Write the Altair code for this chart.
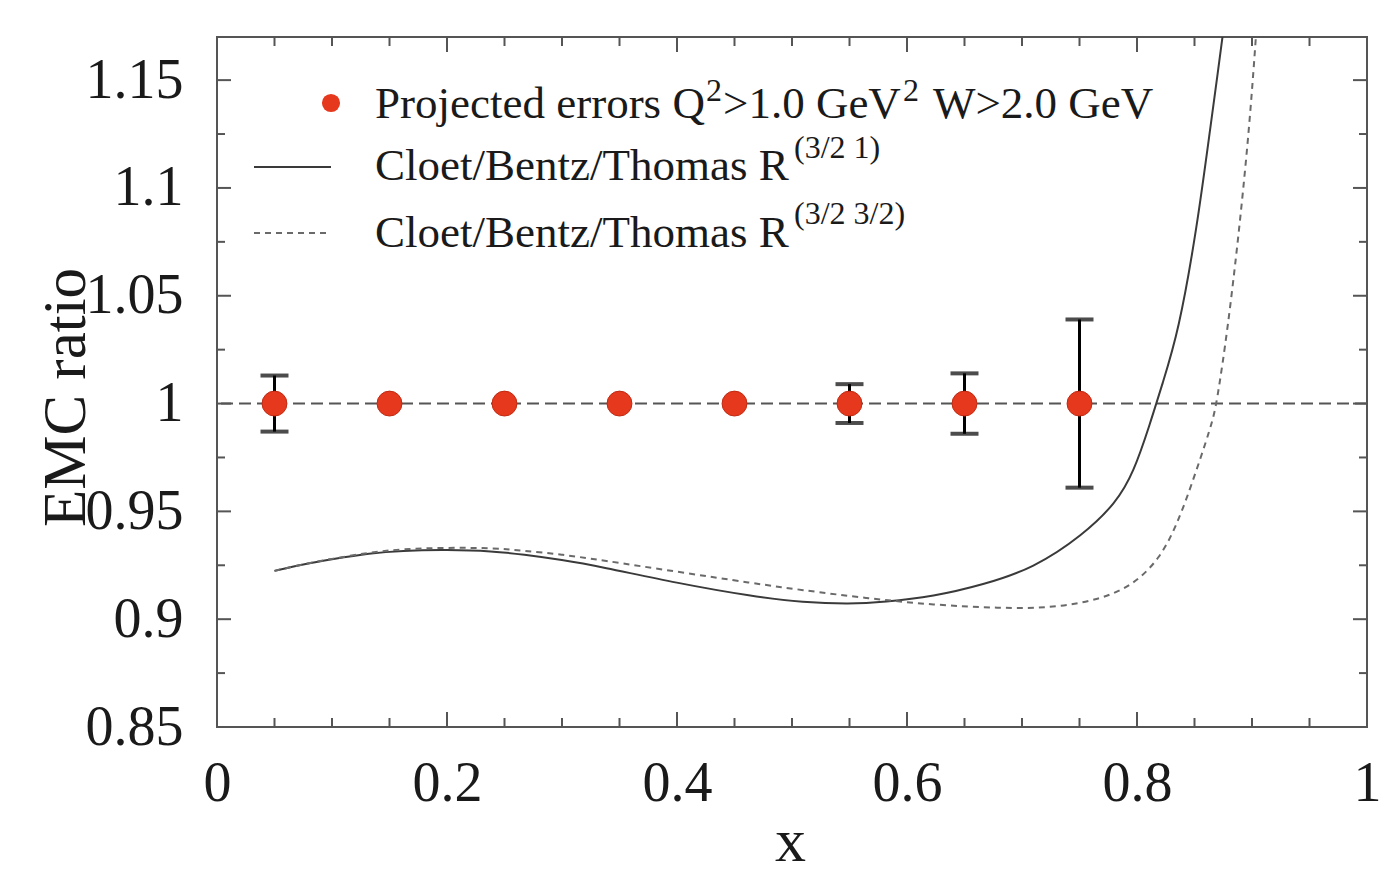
import altair as alt
import pandas as pd

# ---- data ----
x_pts = [0.05, 0.15, 0.25, 0.35, 0.45, 0.55, 0.65, 0.75]
y_pts = [1.0, 1.0, 1.0, 1.0, 1.0, 1.0, 1.0, 1.0]
err_pts = [0.013, 0.0, 0.0, 0.0, 0.0, 0.009, 0.014, 0.039]

solid_x = [0.05, 0.075, 0.10, 0.133, 0.16, 0.20, 0.24, 0.266, 0.30, 0.333, 0.40,
           0.466, 0.51, 0.55, 0.58, 0.623, 0.666, 0.71, 0.753, 0.782, 0.797,
           0.811, 0.822, 0.836, 0.852, 0.8635, 0.8745, 0.885]
solid_y = [0.9224, 0.9255, 0.9278, 0.9306, 0.9318, 0.9322, 0.9316, 0.9300, 0.9275,
           0.9244, 0.9167, 0.9105, 0.9078, 0.9070, 0.9079, 0.9105, 0.9159, 0.9236,
           0.9390, 0.9540, 0.9680, 0.9900, 1.0090, 1.0330, 1.081, 1.127, 1.17, 1.215]

dash_x = [0.05, 0.075, 0.10, 0.133, 0.16, 0.20, 0.24, 0.266, 0.30, 0.333, 0.40,
          0.466, 0.507, 0.565, 0.623, 0.681, 0.724, 0.768, 0.797, 0.82, 0.8345,
          0.846, 0.8649, 0.8693, 0.879, 0.889, 0.8975, 0.9035, 0.909]
dash_y = [0.9224, 0.9255, 0.9280, 0.9310, 0.9325, 0.9332, 0.9330, 0.9318, 0.9300,
          0.9275, 0.9220, 0.9167, 0.9136, 0.9097, 0.9066, 0.9051, 0.9051, 0.9090,
          0.9159, 0.9282, 0.9437, 0.9600, 0.9900, 1.0, 1.035, 1.081, 1.127,
          1.17, 1.215]

x_major = [0, 0.2, 0.4, 0.6, 0.8, 1.0]
x_minor = [0.05, 0.1, 0.15, 0.25, 0.3, 0.35, 0.45, 0.5, 0.55, 0.65, 0.7, 0.75,
           0.85, 0.9, 0.95]
y_major = [0.85, 0.9, 0.95, 1.0, 1.05, 1.1, 1.15]
y_minor = [0.875, 0.925, 0.975, 1.025, 1.075, 1.125]

legend_line1 = ["Projected errors Q", "2", ">1.0 GeV", "2", "W>2.0 GeV"]
legend_labels = ["Cloet/Bentz/Thomas R", "Cloet/Bentz/Thomas R"]
legend_sups = ["(3/2 1)", "(3/2 3/2)"]

# ---- layout constants ----
W, H = 1150, 690
FONT = "Liberation Serif"
TXT = "#1a1a1a"

pts = pd.DataFrame({"x": x_pts, "y": y_pts, "e": err_pts})
pts["lo"] = pts["y"] - pts["e"]
pts["hi"] = pts["y"] + pts["e"]
errs = pts[pts["e"] > 0]
solid = pd.DataFrame({"x": solid_x, "y": solid_y})
dashed = pd.DataFrame({"x": dash_x, "y": dash_y})
one = pd.DataFrame({"y": [1.0]})
dummy = pd.DataFrame({"a": [0]})

xs = alt.Scale(domain=[0, 1], nice=False, zero=False)
ys = alt.Scale(domain=[0.85, 1.17], nice=False, zero=False)

x_axis = alt.Axis(values=x_major, format="~g", ticks=False, tickSize=0, domain=False,
                  grid=False, labelFont=FONT, labelFontSize=56, labelColor=TXT,
                  labelPadding=29, labelFlush=False, labelOverlap=False, labelBound=False,
                  title="x", titleFont=FONT, titleFontSize=62, titleFontWeight="normal",
                  titleColor=TXT, titleX=573, titleY=133, titleAlign="center",
                  titleBaseline="alphabetic")
y_axis = alt.Axis(values=y_major, format="~g", ticks=False, tickSize=0, domain=False,
                  grid=False, labelFont=FONT, labelFontSize=56, labelColor=TXT,
                  labelPadding=34, labelFlush=False, labelOverlap=False, labelBound=False,
                  title="EMC ratio", titleFont=FONT, titleFontSize=61,
                  titleFontWeight="normal", titleColor=TXT, titleAngle=270,
                  titleX=-133, titleY=360, titleAlign="center",
                  titleBaseline="alphabetic")

X = lambda f: alt.X(f, type="quantitative", scale=xs, axis=x_axis)
Y = lambda f: alt.Y(f, type="quantitative", scale=ys, axis=y_axis)

layers = []

# inward ticks on all four sides
tick_col = "#555555"
def xticks(vals, length):
    df = pd.DataFrame({"x": vals})
    b = alt.Chart(df).mark_rule(color=tick_col, strokeWidth=2).encode(
        x=X("x"), y=alt.value(H), y2=alt.value(H - length))
    t = alt.Chart(df).mark_rule(color=tick_col, strokeWidth=2).encode(
        x=X("x"), y=alt.value(0), y2=alt.value(length))
    return [b, t]

def yticks(vals, length):
    df = pd.DataFrame({"y": vals})
    l = alt.Chart(df).mark_rule(color=tick_col, strokeWidth=2).encode(
        y=Y("y"), x=alt.value(0), x2=alt.value(length))
    r = alt.Chart(df).mark_rule(color=tick_col, strokeWidth=2).encode(
        y=Y("y"), x=alt.value(W), x2=alt.value(W - length))
    return [l, r]

layers += xticks(x_major, 15) + xticks(x_minor, 9)
layers += yticks(y_major, 14) + yticks(y_minor, 8)

# reference line at 1
layers.append(alt.Chart(one).mark_rule(color="#555555", strokeWidth=2,
                                       strokeDash=[12, 6]).encode(y=Y("y")))

# model curves
layers.append(alt.Chart(solid).mark_line(color="#3a3a3a", strokeWidth=2,
                                         interpolate="basis", clip=True).encode(
    x=X("x"), y=Y("y")))
layers.append(alt.Chart(dashed).mark_line(color="#6a6a6a", strokeWidth=2,
                                          strokeDash=[6, 5], interpolate="basis",
                                          clip=True).encode(
    x=X("x"), y=Y("y")))

# error bars
layers.append(alt.Chart(errs).mark_rule(color="black", strokeWidth=3).encode(
    x=X("x"), y=Y("lo"), y2="hi"))
layers.append(alt.Chart(errs).mark_tick(orient="horizontal", size=28, thickness=4,
                                        color="black").encode(x=X("x"), y=Y("lo")))
layers.append(alt.Chart(errs).mark_tick(orient="horizontal", size=28, thickness=4,
                                        color="black").encode(x=X("x"), y=Y("hi")))

# data points
layers.append(alt.Chart(pts).mark_circle(size=620, color="#E5381C", opacity=1,
                                         stroke="#C02A12", strokeWidth=1).encode(
    x=X("x"), y=Y("y")))

# ---- legend (drawn inside the plot, top-left) ----
layers.append(alt.Chart(dummy).mark_circle(size=330, color="#E5381C", opacity=1).encode(
    x=alt.value(114), y=alt.value(66)))
layers.append(alt.Chart(dummy).mark_rule(color="#3a3a3a", strokeWidth=2).encode(
    x=alt.value(37), x2=alt.value(114), y=alt.value(130)))
layers.append(alt.Chart(dummy).mark_rule(color="#6a6a6a", strokeWidth=2,
                                         strokeDash=[6, 5]).encode(
    x=alt.value(37), x2=alt.value(114), y=alt.value(196)))

def txt(s, x, y, size):
    return alt.Chart(dummy).mark_text(text=s, font=FONT, fontSize=size, color=TXT,
                                      align="left", baseline="alphabetic").encode(
        x=alt.value(x), y=alt.value(y))

# first legend line, with real superscripts
layers.append(txt(legend_line1[0], 158, 81, 45))
layers.append(txt(legend_line1[1], 489, 64, 32))
layers.append(txt(legend_line1[2], 506, 81, 45))
layers.append(txt(legend_line1[3], 686, 64, 32))
layers.append(txt(legend_line1[4], 716, 81, 45))
layers.append(txt(legend_labels[0], 158, 143, 45))
layers.append(txt(legend_labels[1], 158, 210, 45))
layers.append(txt(legend_sups[0], 577, 121, 32))
layers.append(txt(legend_sups[1], 577, 187, 32))

chart = alt.layer(*layers).properties(
    width=W, height=H,
    autosize=alt.AutoSizeParams(type="none"),
    padding={"left": 217, "top": 37, "right": 22, "bottom": 153},
    background="white",
).configure_view(stroke="#555555", strokeWidth=2)

chart.save("out.html", embed_options={"renderer": "svg", "actions": False})
